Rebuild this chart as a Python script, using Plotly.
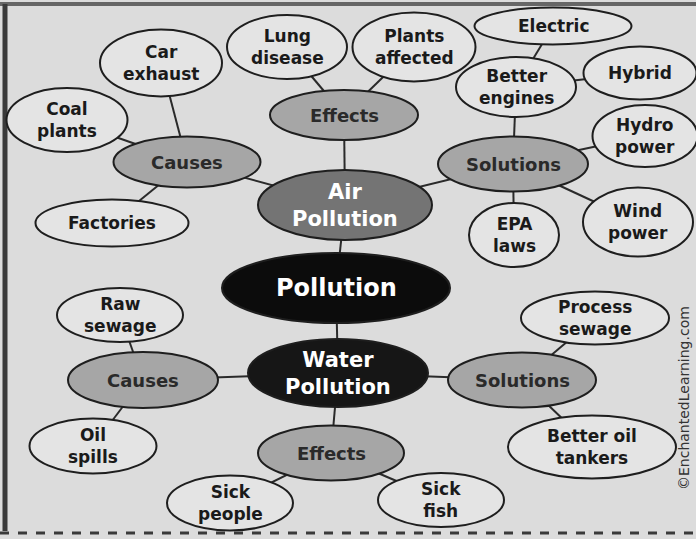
import plotly.graph_objects as go

# ---- data ----
node_labels = [
    "Pollution",
    "Air<br>Pollution", "Water<br>Pollution",
    "Causes", "Effects", "Solutions",
    "Car<br>exhaust", "Coal<br>plants", "Factories",
    "Lung<br>disease", "Plants<br>affected",
    "Better<br>engines", "Electric", "Hybrid", "Hydro<br>power", "Wind<br>power", "EPA<br>laws",
    "Causes", "Effects", "Solutions",
    "Raw<br>sewage", "Oil<br>spills",
    "Sick<br>people", "Sick<br>fish",
    "Process<br>sewage", "Better oil<br>tankers",
]
node_level = [0, 1, 2, 3, 3, 3, 4, 4, 4, 4, 4, 4, 4, 4, 4, 4, 4, 3, 3, 3, 4, 4, 4, 4, 4, 4]
node_cx = [336, 345, 338, 187, 344, 513, 161, 67, 112, 287, 414, 516, 553, 640, 645, 638, 514,
           143, 331, 522, 120, 93, 230, 441, 595, 592]
node_cy = [288, 205, 373, 162, 115, 164, 63, 120, 223, 47, 47, 87, 26, 73, 136, 222, 235,
           380, 453, 380, 315, 446, 503, 500, 318, 447]
node_w = [228, 174, 180, 147, 148, 150, 122, 121, 153, 120, 123, 120, 157, 113, 105, 110, 90,
          150, 146, 148, 126, 127, 126, 126, 148, 168]
node_h = [70, 70, 68, 51, 50, 55, 67, 64, 47, 64, 69, 60, 37, 53, 62, 69, 64,
          56, 55, 55, 54, 55, 55, 54, 53, 63]
edges = [(0, 1), (0, 2), (1, 3), (1, 4), (1, 5),
         (3, 6), (3, 7), (3, 8), (4, 9), (4, 10),
         (5, 11), (11, 12), (11, 13), (5, 14), (5, 15), (5, 16),
         (2, 17), (2, 18), (2, 19), (17, 20), (17, 21), (18, 22), (18, 23),
         (19, 24), (19, 25)]
watermark = "©EnchantedLearning.com"

# ---- styles ----
fill_by_level = {0: "#0c0c0c", 1: "#747474", 2: "#161616", 3: "#a6a6a6", 4: "#e4e4e4"}
text_by_level = {0: "#ffffff", 1: "#ffffff", 2: "#ffffff", 3: "#2a2a2a", 4: "#1a1a1a"}
size_by_level = {0: 24, 1: 21, 2: 21, 3: 18, 4: 17}

W, H = 696, 539
fig = go.Figure()

ex, ey = [], []
for a, b in edges:
    ex += [node_cx[a], node_cx[b], None]
    ey += [node_cy[a], node_cy[b], None]
fig.add_trace(go.Scatter(x=ex, y=ey, mode="lines",
                         line=dict(color="#2a2a2a", width=2),
                         hoverinfo="skip", showlegend=False))

shapes = []
# frame
shapes.append(dict(type="line", xref="x", yref="y", x0=0, x1=W, y0=4, y1=4,
                   line=dict(color="#666666", width=4), layer="below"))
shapes.append(dict(type="line", xref="x", yref="y", x0=5, x1=5, y0=4, y1=531,
                   line=dict(color="#3a3a3a", width=5), layer="below"))
shapes.append(dict(type="line", xref="x", yref="y", x0=0, x1=W, y0=533, y1=533,
                   line=dict(color="#3a3a3a", width=3, dash="dash"), layer="below"))

annotations = []
for i, lab in enumerate(node_labels):
    lv = node_level[i]
    shapes.append(dict(type="circle", xref="x", yref="y",
                       x0=node_cx[i] - node_w[i] / 2, x1=node_cx[i] + node_w[i] / 2,
                       y0=node_cy[i] - node_h[i] / 2, y1=node_cy[i] + node_h[i] / 2,
                       fillcolor=fill_by_level[lv],
                       line=dict(color="#1e1e1e", width=2), layer="above"))
    annotations.append(dict(x=node_cx[i], y=node_cy[i], xref="x", yref="y", text=lab,
                            showarrow=False, align="center",
                            font=dict(family="DejaVu Sans", size=size_by_level[lv],
                                      color=text_by_level[lv], weight="bold")))

annotations.append(dict(x=684, y=398, xref="x", yref="y", text=watermark, textangle=-90,
                        showarrow=False,
                        font=dict(family="DejaVu Sans", size=14, color="#333333")))

fig.update_layout(
    width=W, height=H,
    margin=dict(l=0, r=0, t=0, b=0),
    paper_bgcolor="#dcdcdc", plot_bgcolor="#dcdcdc",
    xaxis=dict(range=[0, W], visible=False, fixedrange=True),
    yaxis=dict(range=[H, 0], visible=False, fixedrange=True),
    shapes=shapes, annotations=annotations,
    showlegend=False,
)
fig.write_html("out.html",
               config={"displayModeBar": False},
               post_script="document.body.style.margin='0';document.body.style.overflow='hidden';")
